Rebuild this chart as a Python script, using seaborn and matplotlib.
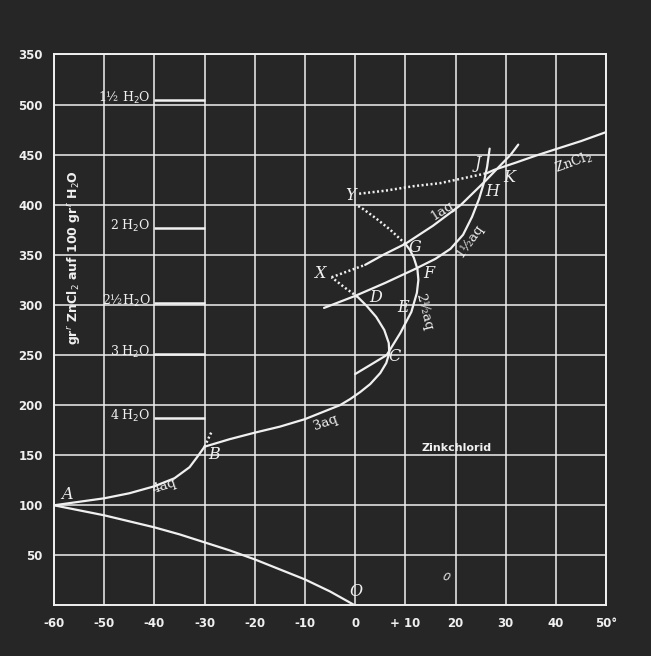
import matplotlib
matplotlib.use('Agg')
import matplotlib.pyplot as plt
import seaborn as sns

# -----------------------------
# DATA
# -----------------------------

x_ticks = [-60, -50, -40, -30, -20, -10, 0, 10, 20, 30, 40, 50]
x_labels = ['-60', '-50', '-40', '-30', '-20', '-10', '0', '+ 10', '20', '30', '40', '50°']
y_ticks = [50, 100, 150, 200, 250, 300, 350, 400, 450, 500, 550]
y_labels = ['50', '100', '150', '200', '250', '300', '350', '400', '450', '500', '350']

# ice curve A-O
ice_x = [-60, -55, -50, -45, -40, -35, -30, -25, -20, -15, -10, -5, 0]
ice_y = [100, 95, 90, 84, 78, 71, 63, 55, 46, 36, 26, 14, 0]

# 4aq curve A-B
aq4_x = [-60, -55, -50, -45, -40, -36, -33, -31.5, -30]
aq4_y = [100, 103.5, 107, 112, 119, 127, 138, 148, 158.5]
aq4_meta_x = [-30, -29.3, -28.6]
aq4_meta_y = [158.5, 166, 173.5]

# 3aq curve B-C-D, metastable D-X
aq3_x = [-30, -25, -20, -15, -10, -6, -3, -1, 1, 3, 5, 6.2, 6.8, 6.7, 5.8, 4.2, 2.3, 0.5]
aq3_y = [158.5, 166, 172.5, 178.5, 186, 194, 200, 206, 213, 221, 232, 242, 252, 262, 275, 288, 299, 308]
aq3_meta_x = [0.5, -2, -4.7]
aq3_meta_y = [308, 317, 327.6]

# 2.5aq curve from 0° through C, E, F to G, metastable G-Y
aq25_x = [0, 3, 6.3, 9.0, 11.2, 12.3, 12.6, 12.4, 11.7, 10.9, 10]
aq25_y = [231, 240, 250, 272, 293, 312, 325, 336, 347, 355, 361]
aq25_meta_x = [10, 7, 4, 1.5, 0.5]
aq25_meta_y = [361, 375, 387, 396, 399]

# 1.5aq curve D-F-H-J
aq15_x = [-6.2, 0, 6, 12, 16, 19, 21.5, 23.3, 24.7, 25.6, 26.3, 26.8]
aq15_y = [297, 309, 322, 336, 346, 356, 370, 388, 406, 421, 438, 456]

# 1aq curve, metastable X-G then G-H-K
aq1_meta_x = [-4.7, 2]
aq1_meta_y = [327.6, 340]
aq1_x = [2, 5.6, 10, 15.5, 21.1, 26, 31, 32.5]
aq1_y = [340, 350, 361, 379, 400, 424, 450, 460]

# anhydrous ZnCl2, metastable Y-J then J-K onwards
zn_meta_x = [0.8, 6, 11.6, 16.9, 20.2, 26.2]
zn_meta_y = [411, 414, 418.5, 421.5, 425, 431.4]
zn_x = [26.2, 27.7, 32, 36, 40, 45, 50]
zn_y = [431.4, 434.8, 442, 449, 455.5, 463.5, 472.5]

# composition of the hydrates (g ZnCl2 per 100 g water)
hydrate_labels = ['1½ H$_2$O', '2 H$_2$O', '2½H$_2$O', '3 H$_2$O', '4 H$_2$O']
hydrate_y = [505, 377, 302, 251, 187]

# point letters
point_names = ['A', 'B', 'C', 'D', 'E', 'F', 'G', 'H', 'J', 'K', 'X', 'Y', 'O']
point_x = [-57.5, -28.2, 7.8, 4.1, 9.6, 14.6, 12.0, 27.3, 24.4, 30.8, -7.1, -0.9, 0.2]
point_y = [111, 150.7, 249, 307.6, 297.7, 331, 357.8, 413, 440.7, 427, 331, 409.7, 13.8]

# curve names
curve_names = ['4aq', '3aq', '2½aq', '1½aq', '1aq', 'ZnCl$_2$']
curve_x = [-38.0, -6.0, 13.8, 22.8, 17.3, 43.6]
curve_y = [119, 183, 293, 364, 394, 442]
curve_rot = [18, 20, -76, 55, 33, 20]

# -----------------------------
# PLOT
# -----------------------------

BG = '#262626'
FG = '#f0f0f0'

sns.set_theme(style='dark', rc={'axes.facecolor': BG, 'figure.facecolor': BG})

fig = plt.figure(figsize=(6.51, 6.56), dpi=100)
ax = fig.add_axes([0.083, 0.077, 0.848, 0.840])

solid = dict(color=FG, linewidth=1.6, sort=False, estimator=None, ax=ax)
dotted = dict(color=FG, linewidth=1.8, sort=False, estimator=None, ax=ax,
              dashes=False, linestyle=(0, (0.8, 1.0)))

sns.lineplot(x=ice_x, y=ice_y, **solid)
sns.lineplot(x=aq4_x, y=aq4_y, **solid)
sns.lineplot(x=aq4_meta_x, y=aq4_meta_y, **dotted)
sns.lineplot(x=aq3_x, y=aq3_y, **solid)
sns.lineplot(x=aq3_meta_x, y=aq3_meta_y, **dotted)
sns.lineplot(x=aq25_x, y=aq25_y, **solid)
sns.lineplot(x=aq25_meta_x, y=aq25_meta_y, **dotted)
sns.lineplot(x=aq15_x, y=aq15_y, **solid)
sns.lineplot(x=aq1_meta_x, y=aq1_meta_y, **dotted)
sns.lineplot(x=aq1_x, y=aq1_y, **solid)
sns.lineplot(x=zn_meta_x, y=zn_meta_y, **dotted)
sns.lineplot(x=zn_x, y=zn_y, **solid)

# hydrate composition marks
ax.hlines(hydrate_y, -40, -30, color=FG, linewidth=1.8)
for lab, yy in zip(hydrate_labels, hydrate_y):
    ax.text(-40.8, yy + 2, lab, ha='right', va='center', color=FG,
            fontsize=9, family='DejaVu Serif')

for name, px, py in zip(point_names, point_x, point_y):
    ax.text(px, py, name, ha='center', va='center', color=FG,
            fontsize=11.5, family='DejaVu Serif', style='italic')

for name, px, py, rot in zip(curve_names, curve_x, curve_y, curve_rot):
    ax.text(px, py, name, ha='center', va='center', color=FG, rotation=rot,
            fontsize=9.5, family='DejaVu Serif')

ax.text(20.2, 157, 'Zinkchlorid', ha='center', va='center', color=FG,
        fontsize=8, fontweight='bold')
ax.text(18.1, 28, '0', ha='center', va='center', color=FG, fontsize=8,
        rotation=-20, style='italic')
ax.text(-56, 347, 'gr$^r$ ZnCl$_2$ auf 100 gr$^r$ H$_2$O', rotation=90,
        ha='center', va='center', color=FG, fontsize=9, fontweight='bold')

# axes, grid
ax.set_xlim(-60, 50)
ax.set_ylim(0, 550)
ax.set_xticks(x_ticks)
ax.set_xticklabels(x_labels)
ax.set_yticks(y_ticks)
ax.set_yticklabels(y_labels)
ax.set_xlabel('')
ax.set_ylabel('')
ax.grid(True, color=FG, linewidth=1.1)
ax.tick_params(length=0, colors=FG, labelsize=8.5, pad=8)
for lab in ax.get_xticklabels() + ax.get_yticklabels():
    lab.set_fontweight('bold')
for sp in ax.spines.values():
    sp.set_color(FG)
    sp.set_linewidth(1.4)

plt.savefig('out.png', dpi=100, facecolor=BG)
plt.close()
